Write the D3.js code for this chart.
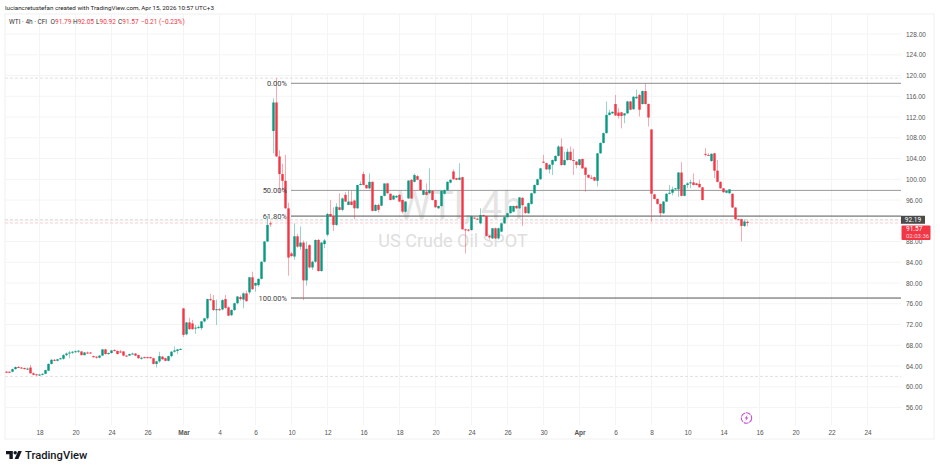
<!DOCTYPE html>
<html>
<head>
<meta charset="utf-8">
<script src="https://cdn.jsdelivr.net/npm/d3@7"></script>
<style>
  html, body { margin: 0; padding: 0; background: #fff; }
  svg { display: block; font-family: Roboto, sans-serif; }
</style>
</head>
<body>
<div id="chart"></div>
<script>
// WTI 4h candles (one entry per candle)
var opens = [
  62.9,62.9,62.9,63.4,63.8,63.7,63.6,63.4,63.7,62.6,
  62.4,62.3,62.35,62.5,63.1,64.4,65.2,65.0,65.3,65.4,
  66.1,66.4,66.6,66.75,66.85,66.8,66.1,66.6,66.6,65.9,
  65.8,65.6,66.0,67.2,66.3,66.5,67.1,66.9,66.8,66.8,
  66.0,66.0,66.3,66.4,66.1,65.4,65.7,65.7,65.7,65.5,
  64.4,64.9,65.8,65.5,65.0,65.9,66.75,66.9,67.2,75.1,
  70.1,72.4,72.2,71.3,71.3,71.3,72.6,73.2,76.9,76.7,
  74.8,74.95,74.9,76.9,75.3,73.8,74.8,76.1,77.3,76.8,
  78.0,78.2,81.1,79.5,79.6,80.8,84.1,88.0,91.5,109.3,
  114.8,104.4,101.0,99.7,94.4,85.7,85.1,89.0,87.0,87.8,
  80.5,87.3,83.0,84.1,88.3,82.3,87.5,89.3,93.3,92.9,
  91.2,94.6,94.1,97.0,95.05,95.7,95.9,94.4,98.9,101.0,
  98.9,98.25,99.5,93.9,95.05,94.9,96.8,99.2,97.2,96.1,
  96.5,97.0,96.0,93.75,96.3,99.9,99.5,100.6,99.9,97.0,
  97.6,97.3,97.75,96.0,94.4,94.85,97.2,97.9,99.35,101.5,
  100.2,99.9,100.4,90.35,90.3,90.2,92.6,92.4,91.5,93.1,
  92.9,89.1,88.6,90.55,88.6,89.9,91.5,92.7,93.45,93.75,
  94.85,94.4,96.4,94.7,93.45,95.25,97.3,98.9,100.0,103.4,
  103.1,101.9,102.8,103.5,104.5,106.3,102.75,103.7,105.3,103.7,
  103.4,102.75,103.9,102.25,100.85,100.3,100.4,99.7,105.0,107.0,
  108.9,112.4,112.7,114.5,112.85,112.9,112.3,112.7,115.0,113.5,
  115.6,116.25,114.5,117.0,114.5,109.6,97.1,96.2,95.25,93.45,
  95.7,97.2,97.4,98.05,98.05,101.3,96.8,98.9,99.2,99.4,
  99.2,99.1,98.45,104.9,104.7,103.5,105.0,101.65,99.5,98.25,
  97.4,97.3,97.2,94.55,92.3,92.3,91.0,91.79
];
var highs = [
  63.1,63.0,63.5,63.9,64.0,63.8,63.7,63.7,64.2,62.8,
  62.5,62.5,62.6,63.3,64.5,65.3,65.3,65.4,65.6,66.3,
  66.6,66.9,66.9,67.0,67.1,66.9,66.7,66.8,66.7,66.0,
  65.9,66.1,67.3,67.3,66.6,67.1,67.2,67.0,67.1,66.9,
  66.1,66.4,66.6,66.5,66.2,65.8,65.8,65.8,65.8,65.6,
  65.0,66.75,66.0,65.6,66.0,66.9,67.8,67.3,67.4,75.2,
  72.5,73.3,72.9,71.9,71.8,72.7,73.3,77.0,77.9,77.7,
  76.8,75.2,76.9,77.7,75.5,74.9,76.2,77.5,77.6,78.2,
  78.5,81.2,82.2,80.1,80.9,84.2,88.1,92.9,91.9,115.6,
  119.5,105.6,103.0,104.7,95.5,86.0,91.5,89.5,90.9,88.2,
  88.0,87.5,84.3,88.4,88.5,87.9,88.5,93.5,96.0,94.6,
  95.4,97.3,96.5,97.5,97.8,97.8,96.1,98.9,99.6,101.5,
  99.0,101.15,99.6,95.2,95.3,95.0,97.0,99.3,97.3,96.9,
  96.9,97.1,96.1,95.8,99.8,100.0,101.1,100.8,100.0,98.0,
  99.2,102.1,97.9,96.1,94.9,97.8,98.0,99.6,100.0,101.9,
  100.3,103.1,100.5,90.5,90.4,93.0,92.7,92.6,94.4,93.2,
  93.0,89.2,90.6,90.7,90.7,91.6,92.8,93.5,94.9,94.9,
  95.0,96.6,96.6,94.8,95.5,97.4,99.0,100.1,102.2,104.7,
  103.2,102.9,103.8,104.6,106.6,107.9,105.3,105.9,106.3,105.9,
  103.5,103.9,104.0,102.3,100.9,100.8,100.5,105.1,107.1,109.0,
  115.0,113.4,113.1,116.25,113.7,113.0,112.8,115.1,115.1,116.0,
  117.3,116.5,117.1,118.5,114.6,109.7,97.2,96.3,95.3,95.8,
  97.3,98.9,98.6,98.3,101.4,103.3,99.0,99.4,99.9,101.15,
  99.3,99.9,98.5,106.0,105.0,105.0,105.1,103.7,99.6,98.3,
  97.8,98.1,97.3,94.6,92.4,92.4,92.3,92.05
];
var lows = [
  62.7,62.6,62.8,63.3,63.6,63.5,63.3,63.2,62.5,62.2,
  62.1,62.1,62.2,62.4,63.0,64.3,64.9,64.9,65.2,65.2,
  65.9,65.5,66.3,66.5,66.5,66.0,66.0,66.3,66.4,65.6,
  65.4,65.5,65.9,66.2,66.2,66.4,66.8,66.2,66.5,65.9,
  65.8,65.9,66.2,65.9,65.4,65.2,65.5,65.5,65.4,64.3,
  63.7,64.6,65.2,64.9,64.9,65.7,66.6,66.3,67.1,69.6,
  69.9,71.0,71.0,70.2,71.2,70.9,72.4,72.9,76.5,74.6,
  71.9,74.6,74.7,75.0,73.6,73.6,74.6,75.9,76.6,75.1,
  76.4,77.8,78.7,78.3,79.3,80.7,84.0,87.9,90.8,105.0,
  104.3,97.3,97.6,94.3,81.4,85.0,84.5,86.8,86.4,76.7,
  79.5,82.8,82.5,83.9,82.2,82.2,86.7,89.0,92.7,90.0,
  91.0,94.0,93.8,95.6,95.0,95.0,92.3,94.3,98.8,98.8,
  98.2,98.1,93.8,93.8,93.6,94.8,96.7,97.2,95.9,96.0,
  96.4,95.6,93.4,93.6,96.2,96.2,99.4,99.8,97.8,96.9,
  96.9,97.2,95.9,94.5,94.3,94.7,97.1,97.8,99.2,99.9,
  99.8,99.8,90.3,85.7,89.9,90.1,92.4,92.2,91.3,92.8,
  88.9,88.4,88.5,88.5,88.4,89.8,91.4,92.6,93.4,93.6,
  94.3,94.3,91.0,93.3,93.3,95.1,97.2,98.8,99.9,103.1,
  101.8,101.1,100.8,103.4,104.4,102.6,102.6,103.6,103.6,100.8,
  102.1,102.6,102.0,97.6,100.2,100.1,99.6,98.6,104.9,106.9,
  108.8,112.3,112.6,112.2,111.7,109.8,110.8,112.6,113.3,113.4,
  115.5,112.1,114.4,114.4,110.15,91.8,96.1,95.1,92.7,93.3,
  95.6,97.1,96.9,97.9,96.6,96.7,96.7,98.3,98.3,98.8,
  98.8,98.4,95.9,104.4,104.5,103.4,100.2,99.4,98.2,97.4,
  97.3,97.2,94.5,92.2,92.1,88.0,90.8,90.92
];
var closes = [
  62.85,62.8,63.4,63.8,63.7,63.6,63.4,63.5,62.6,62.3,
  62.3,62.35,62.5,63.2,64.4,65.2,65.0,65.3,65.5,66.1,
  66.4,66.6,66.75,66.85,66.95,66.1,66.6,66.5,66.5,65.8,
  65.6,66.0,67.2,66.3,66.5,67.0,67.0,66.3,66.6,66.0,
  65.9,66.3,66.4,66.0,65.5,65.6,65.6,65.65,65.5,64.4,
  64.9,65.9,65.3,65.0,65.9,66.75,67.0,67.2,67.3,70.0,
  72.4,71.1,71.1,71.4,71.5,72.6,73.2,76.9,76.7,74.8,
  74.95,74.8,76.7,75.2,73.7,74.8,76.1,77.4,76.9,78.0,
  76.5,81.1,78.8,80.0,80.8,84.1,88.0,91.2,91.3,114.8,
  104.4,101.0,99.7,94.4,84.9,85.2,89.0,87.0,87.8,80.5,
  86.6,83.0,84.1,88.3,82.3,87.8,88.2,93.3,92.9,91.2,
  94.7,94.1,96.3,95.7,95.7,95.05,94.4,98.9,99.1,98.9,
  98.25,99.5,93.9,95.05,94.1,96.8,99.2,97.3,96.0,96.85,
  96.8,95.7,93.75,95.7,99.75,96.3,100.8,99.9,97.9,97.9,
  97.0,97.9,96.0,94.6,94.85,97.75,97.9,99.5,99.9,100.0,
  99.9,100.3,90.35,90.2,90.1,92.9,92.5,92.3,93.1,92.9,
  89.1,88.8,90.55,88.6,90.55,91.5,92.7,93.45,94.85,94.85,
  94.4,96.5,95.0,93.5,95.4,97.3,98.9,100.0,102.1,103.2,
  101.9,102.8,103.7,104.5,106.3,102.75,103.7,105.3,103.7,103.6,
  102.75,103.85,102.1,100.85,100.3,100.25,99.75,105.0,107.0,108.9,
  112.4,112.85,113.0,112.3,112.2,112.2,112.7,115.0,113.4,115.9,
  115.9,113.4,117.0,114.5,111.9,97.2,96.2,95.25,93.45,95.7,
  97.2,97.4,98.05,98.25,101.3,96.8,98.9,99.2,99.4,98.9,
  98.9,98.45,96.0,104.8,104.6,104.9,101.65,99.5,98.25,97.5,
  97.75,98.05,94.55,92.3,92.15,91.0,91.85,91.57
];
// x axis: candle index of each date label
var dateTicks = [11,23,35,47,59,71,83,95,107,119,131,143,155,167,179,191,203,215,227,239,251,263,275,287];
var dateLabels = ['18','20','24','26','Mar','4','6','10','12','16','18','20','24','26','30','Apr','6','8','10','14','16','20','22','24'];
var priceTicks = [56,60,64,68,72,76,80,84,88,92,96,100,104,108,112,116,120,124,128];
// fibonacci levels
var fibPrices = [118.5, 97.85, 92.9, 77.1];
var fibLabels = ['0.00%', '50.00%', '61.80%', '100.00%'];
var fibColors = ['#8a8a8a', '#9a9a9a', '#555555', '#555555'];
// dashed price lines: high, last, prev close, low
var dashPrices = [119.5, 92.19, 91.57, 62];
var dashColors = ['#e0e0e0', '#d8d8d8', '#fbcdd0', '#e0e0e0'];

var lastPrice = 91.57, prevPrice = 92.19;
var up = '#089981', down = '#f23645';

var width = 940, height = 470;
var svg = d3.select('#chart').append('svg').attr('width', width).attr('height', height);

var x = d3.scaleLinear().domain([0, 247]).range([6.5, 747.5]);
var y = d3.scaleLinear().domain([56, 128]).range([407.5, 34]);
var plotLeft = 5, plotRight = 901, plotTop = 14, plotBottom = 439;

// frame
svg.append('rect').attr('x', plotLeft).attr('y', plotTop)
  .attr('width', 929).attr('height', plotBottom - plotTop)
  .attr('fill', 'none').attr('stroke', '#f0f0f0');

// grid
svg.append('g').selectAll('line').data(dateTicks).enter().append('line')
  .attr('x1', function(d) { return x(d); }).attr('x2', function(d) { return x(d); })
  .attr('y1', plotTop).attr('y2', 425).attr('stroke', '#f4f4f4');
svg.append('g').selectAll('line').data(priceTicks).enter().append('line')
  .attr('x1', plotLeft).attr('x2', plotRight)
  .attr('y1', function(d) { return y(d); }).attr('y2', function(d) { return y(d); })
  .attr('stroke', '#f4f4f4');

// watermark
svg.append('text').attr('x', 460).attr('y', 219).attr('text-anchor', 'middle')
  .attr('font-size', 38).attr('fill', '#e4e4e4').text('WTI, 4h');
svg.append('text').attr('x', 453).attr('y', 246.5).attr('text-anchor', 'middle')
  .attr('font-size', 18).attr('fill', '#dedede').text('US Crude Oil SPOT');

// axes
var xAxis = d3.axisBottom(x).tickValues(dateTicks).tickSize(0).tickPadding(0)
  .tickFormat(function(d, i) { return dateLabels[i]; });
var gx = svg.append('g').attr('transform', 'translate(0,430)').call(xAxis);
gx.select('.domain').remove();
gx.selectAll('text').attr('font-size', 6.5).attr('fill', '#555')
  .attr('font-weight', function(d, i) { return dateLabels[i] == 'Mar' || dateLabels[i] == 'Apr' ? 700 : 400; });

var yAxis = d3.axisRight(y).tickValues(priceTicks).tickSize(0).tickPadding(0)
  .tickFormat(d3.format('.2f'));
var gy = svg.append('g').attr('transform', 'translate(906,0)').call(yAxis);
gy.select('.domain').remove();
gy.selectAll('text').attr('font-size', 6.5).attr('fill', '#555');

// dashed lines
svg.append('g').selectAll('line').data(dashPrices).enter().append('line')
  .attr('x1', plotLeft).attr('x2', plotRight)
  .attr('y1', function(d) { return y(d); }).attr('y2', function(d) { return y(d); })
  .attr('stroke', function(d, i) { return dashColors[i]; })
  .attr('stroke-dasharray', '3,2');

// fib lines and labels
svg.append('g').selectAll('line').data(fibPrices).enter().append('line')
  .attr('x1', 291).attr('x2', plotRight)
  .attr('y1', function(d) { return y(d); }).attr('y2', function(d) { return y(d); })
  .attr('stroke', function(d, i) { return fibColors[i]; });

// candles
var bodyW = 2.4;
var candles = svg.append('g').selectAll('g').data(d3.range(opens.length)).enter().append('g');
candles.append('line')
  .attr('x1', function(i) { return x(i); }).attr('x2', function(i) { return x(i); })
  .attr('y1', function(i) { return y(highs[i]); }).attr('y2', function(i) { return y(lows[i]); })
  .attr('stroke', function(i) { return closes[i] >= opens[i] ? up : down; })
  .attr('stroke-opacity', 0.42);
candles.append('rect')
  .attr('x', function(i) { return x(i) - bodyW / 2; })
  .attr('width', bodyW)
  .attr('y', function(i) { return y(Math.max(opens[i], closes[i])); })
  .attr('height', function(i) { return Math.max(1, Math.abs(y(opens[i]) - y(closes[i]))); })
  .attr('fill', function(i) { return closes[i] >= opens[i] ? up : down; });

svg.append('g').selectAll('text').data(fibPrices).enter().append('text')
  .attr('x', 287).attr('text-anchor', 'end')
  .attr('y', function(d) { return y(d) + 2.5; })
  .attr('font-size', 7.5).attr('fill', '#444')
  .text(function(d, i) { return fibLabels[i]; });

// price labels
svg.append('rect').attr('x', 901).attr('y', y(prevPrice) - 4).attr('width', 24).attr('height', 8).attr('fill', '#4a4a4a');
svg.append('text').attr('x', 913).attr('y', y(prevPrice) + 2.4).attr('text-anchor', 'middle')
  .attr('font-size', 6.5).attr('fill', '#fff').text(d3.format('.2f')(prevPrice));
svg.append('rect').attr('x', 901.5).attr('y', 225.5).attr('width', 29).attr('height', 14.5).attr('rx', 1).attr('fill', down);
svg.append('text').attr('x', 906).attr('y', 231.2)
  .attr('font-size', 6.5).attr('fill', '#fff').text(d3.format('.2f')(lastPrice));
svg.append('text').attr('x', 906).attr('y', 237.6)
  .attr('font-size', 6).attr('fill', '#ffd5d9').text('02:03:36');

// lightning marker
var bolt = svg.append('g').attr('transform', 'translate(746.5,418)');
bolt.append('circle').attr('r', 5.2).attr('fill', '#fff').attr('stroke', '#c44fd4')
  .attr('stroke-width', 1.1).attr('stroke-dasharray', '5,0.8');
bolt.append('path').attr('d', 'M1,-3 L-1.9,0.5 L-0.2,0.5 L-1,3 L1.9,-0.5 L0.2,-0.5 Z').attr('fill', '#c44fd4');

// header and legend
svg.append('text').attr('x', 5).attr('y', 10).attr('font-size', 6.25).attr('fill', '#222')
  .text('luciancretustefan created with TradingView.com, Apr 15, 2026 10:57 UTC+3');
var legend = svg.append('text').attr('y', 23.5).attr('font-size', 6.5).attr('fill', '#333');
legend.append('tspan').attr('x', 9).text('WTI · 4h · CFI');
legend.append('tspan').attr('x', 50.5).text('O');
legend.append('tspan').attr('fill', down).text('91.79');
legend.append('tspan').attr('x', 73).text('H');
legend.append('tspan').attr('fill', down).text('92.05');
legend.append('tspan').attr('x', 96).text('L');
legend.append('tspan').attr('fill', down).text('90.92');
legend.append('tspan').attr('x', 118).text('C');
legend.append('tspan').attr('fill', down).text('91.57');
legend.append('tspan').attr('x', 141).attr('fill', down).text('−0.21 (−0.23%)');

// TradingView logo
var logo = svg.append('g').attr('transform', 'translate(6,451)').attr('fill', '#131722');
logo.append('path').attr('d', 'M0,0 H6.8 V8 H3.4 V3.3 H0 Z');
logo.append('circle').attr('cx', 9.2).attr('cy', 1.7).attr('r', 1.7);
logo.append('path').attr('d', 'M12.2,0 H15.8 L12.4,8 H8.6 Z');
svg.append('text').attr('x', 25).attr('y', 459).attr('font-size', 11.2).attr('font-weight', 500)
  .attr('fill', '#131722').text('TradingView');
</script>
</body>
</html>
